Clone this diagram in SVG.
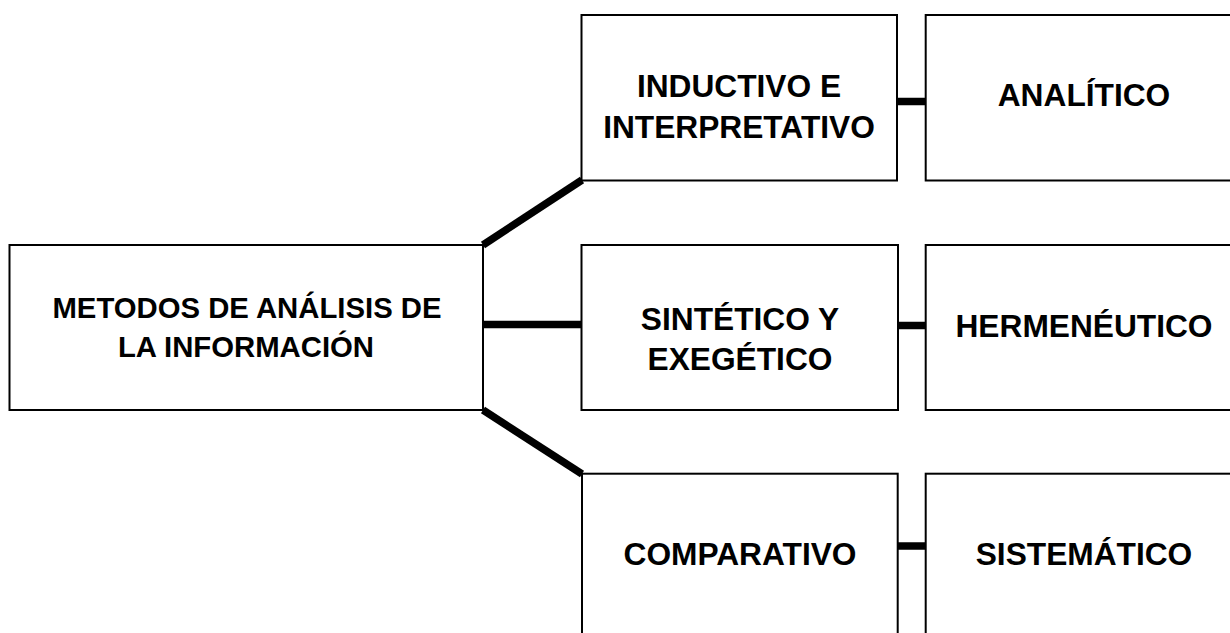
<svg xmlns="http://www.w3.org/2000/svg" width="1230" height="633" viewBox="0 0 1230 633">
<style>
.box{fill:#fff;stroke:#000;stroke-width:2}
.t{font-family:"Liberation Sans",Arial,sans-serif;font-weight:bold;fill:#000;text-anchor:middle}
.big{font-size:31.7px}
.main{font-size:29.3px}
.c{stroke:#000;stroke-width:7.5;fill:none}
</style>
<rect width="1230" height="633" fill="#fff"/>
<g id="connectors">
<line class="c" x1="483" y1="245" x2="582" y2="180"/>
<line class="c" x1="483" y1="324.5" x2="582" y2="324.5"/>
<line class="c" x1="483" y1="410" x2="582" y2="474"/>
<line class="c" x1="897" y1="101.5" x2="926" y2="101.5"/>
<line class="c" x1="897" y1="325.5" x2="926" y2="325.5"/>
<line class="c" x1="897" y1="546" x2="926" y2="546"/>
</g>
<g id="main">
<rect class="box" x="9.5" y="245" width="473.5" height="165"/>
<text class="t main" x="247" y="317.7">METODOS DE ANÁLISIS DE</text>
<text class="t main" x="246" y="356.7">LA INFORMACIÓN</text>
</g>
<g id="inductivo">
<rect class="box" x="581.5" y="15" width="315.5" height="165.5"/>
<text class="t big" x="739" y="97.3">INDUCTIVO E</text>
<text class="t big" x="739" y="137.7">INTERPRETATIVO</text>
</g>
<g id="analitico">
<rect class="box" x="925.7" y="15" width="320" height="165.5"/>
<text class="t big" x="1084" y="106">ANALÍTICO</text>
</g>
<g id="sintetico">
<rect class="box" x="581.5" y="245" width="316.5" height="165"/>
<text class="t big" x="740" y="330">SINTÉTICO Y</text>
<text class="t big" x="740" y="370">EXEGÉTICO</text>
</g>
<g id="hermeneutico">
<rect class="box" x="925.7" y="245" width="320" height="165"/>
<text class="t big" x="1084" y="336.7">HERMENÉUTICO</text>
</g>
<g id="comparativo">
<rect class="box" x="582" y="473.7" width="315.7" height="170"/>
<text class="t big" x="740" y="564.7">COMPARATIVO</text>
</g>
<g id="sistematico">
<rect class="box" x="925.7" y="473.7" width="320" height="170"/>
<text class="t big" x="1084" y="564.7">SISTEMÁTICO</text>
</g>
</svg>
